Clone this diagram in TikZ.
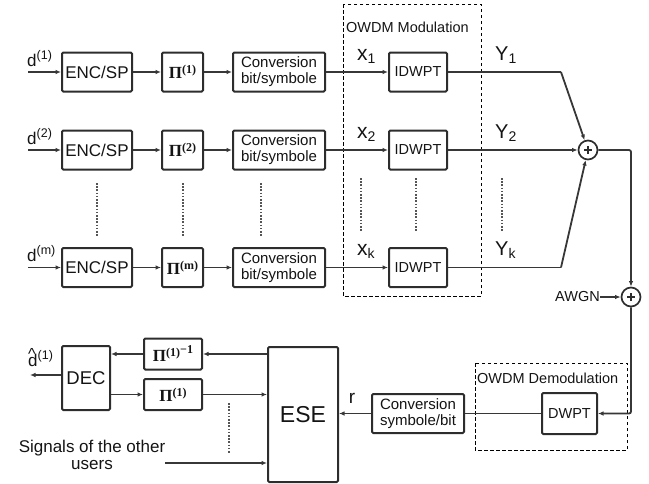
\documentclass[tikz,border=0pt]{standalone}
\usepackage{fontspec}
\setmainfont{Liberation Sans}
\newfontfamily\piserif{Liberation Serif}
\usetikzlibrary{arrows.meta}
\definecolor{linegray}{RGB}{55,55,55}
\definecolor{boxgray}{RGB}{45,45,45}
\definecolor{txt}{RGB}{20,20,20}
\newcommand\fs[1]{\fontsize{#1}{#1}\selectfont}
\newcommand\mysub[2]{#1\raisebox{-3pt}{\fs{14}#2}}
\newcommand\mysup[2]{#1\raisebox{7pt}{\fs{12.5}#2}}
\newcommand\pisym[1]{{\piserif\bfseries\fs{17}Π\raisebox{5pt}{\fs{12}#1}}}
\newcommand\pinv{{\piserif\bfseries\fs{17}Π\raisebox{5pt}{\fs{12}(1)\raisebox{3pt}{\fs{12}−1}}}}
\newcommand\dhat{\rlap{\raisebox{7pt}{\fs{16}\textasciicircum}}d}
\begin{document}
\begin{tikzpicture}[x=1pt,y=-1pt,
  blk/.style={draw=boxgray,line width=2pt,fill=white,inner sep=0pt,align=center,rounded corners=1.2pt,text=txt},
  conn/.style={draw=linegray,line width=1.8pt},
  arr/.style={conn,-{Latex[length=5.5pt,width=4.5pt]}},
  lbl/.style={inner sep=0pt,text=txt},
  dotsv/.style={draw=linegray!85,line width=2.4pt,dash pattern=on 1.6pt off 1.6pt},
  frame/.style={draw=black,line width=0.9pt,dash pattern=on 3.5pt off 2.5pt},
  adder/.style={circle,draw=boxgray,line width=1.7pt,fill=white,minimum size=19pt,inner sep=0pt}]
\useasboundingbox (0,0) rectangle (649,483);

% dashed frames
\draw[frame] (343,4) rectangle (481,296);
\node[lbl,anchor=west,font=\fs{14.5}] (modlbl) at (346,27) {OWDM Modulation};
\draw[frame] (475,363) rectangle (627,450);
\node[lbl,anchor=west,font=\fs{14.5}] (demodlbl) at (477,378) {OWDM Demodulation};

% rows
\foreach \r/\yy/\sup/\sub in {1/72/(1)/1, 2/150/(2)/2, m/267.5/(m)/k}{
  \coordinate (in\r) at (28,\yy);
  \node[blk,minimum width=70pt,minimum height=39pt,font=\fs{17}] (enc\r) at (97,\yy) {ENC/SP};
  \node[blk,minimum width=41pt,minimum height=39pt] (pi\r) at (182.5,\yy) {\pisym{\sup}};
  \node[blk,minimum width=92pt,minimum height=39pt,font=\fs{15}] (conv\r) at (279,\yy) {Conversion\\[1pt]bit/symbole};
  \node[blk,minimum width=58pt,minimum height=39pt,font=\fs{14.5}] (idw\r) at (418,\yy) {IDWPT};
  \node[lbl,font=\fs{17},anchor=base west] (dl\r) at (27,\yy-6) {\mysup{d}{\sup}};
  \node[lbl,font=\fs{21},anchor=base west] (xl\r) at (357,\yy-12) {\mysub{x}{\sub}};
  \node[lbl,font=\fs{20},anchor=base west] (yl\r) at (495,\yy-12) {\mysub{Y}{\sub}};
  \draw[arr] (in\r) -- (enc\r);
  \draw[arr] (enc\r) -- (pi\r);
  \draw[arr] (pi\r) -- (conv\r);
  \draw[arr] (conv\r) -- (idw\r);
}

% adders
\node[adder] (s1) at (588,150) {};
\node[adder] (s2) at (631,297) {};
\foreach \s in {s1,s2}{
  \draw[boxgray,line width=1.3pt] ([xshift=-4pt]\s.center) -- ([xshift=4pt]\s.center)
    ([yshift=-4pt]\s.center) -- ([yshift=4pt]\s.center);
}
\coordinate (b1) at (561,72);
\coordinate (bm) at (561,267.5);
\draw[conn] (idw1) -- (b1);
\draw[arr] (b1) -- (s1);
\draw[arr] (idw2) -- (s1);
\draw[conn] (idwm) -- (bm);
\draw[arr] (bm) -- (s1);
\coordinate (c1) at (631,150);
\draw[arr,rounded corners=2pt] (s1) -- (c1) -- (s2);
\node[lbl,font=\fs{14.5},anchor=east] (awgn) at (600,297) {AWGN};
\draw[arr] (awgn) -- (s2);

% vertical dots
\draw[dotsv] (97,183) -- (97,237);
\draw[dotsv] (183,183) -- (183,237);
\draw[dotsv] (261,183) -- (261,237);
\draw[dotsv] (361,178) -- (361,232);
\draw[dotsv] (416,178) -- (416,232);
\draw[dotsv] (502,178) -- (502,232);
\draw[dotsv] (229,403) -- (229,453);

% receiver
\node[blk,minimum width=55pt,minimum height=41pt,font=\fs{14.5}] (dwpt) at (569.5,413.5) {DWPT};
\node[blk,minimum width=92pt,minimum height=39pt,font=\fs{15}] (convb) at (418,413.5) {Conversion\\[1pt]symbole/bit};
\node[blk,minimum width=70pt,minimum height=135pt,font=\fs{23}] (ese) at (303,414.5) {ESE};
\node[blk,minimum width=58pt,minimum height=31pt] (pinv) at (173,354) {\pinv};
\node[blk,minimum width=58pt,minimum height=31pt] (pib) at (173,394.5) {\pisym{(1)}};
\node[blk,minimum width=48pt,minimum height=64pt,font=\fs{18.5}] (dec) at (86,378) {DEC};

\coordinate (c2) at (631,413.5);
\draw[arr,rounded corners=2pt] (s2) -- (c2) -- (dwpt);
\draw[conn] (dwpt) -- (convb);
\draw[arr] (convb) -- (ese.east |- convb);
\node[lbl,font=\fs{19},anchor=base] (rl) at (352,403) {r};

\draw[arr] (ese.west |- pinv) -- (pinv);
\draw[arr] (pinv) -- (dec.east |- pinv);
\draw[arr] (dec.east |- pib) -- (pib);
\draw[arr] (pib) -- (ese.west |- pib);
\coordinate (dout) at (30,375);
\draw[arr] (dec.west |- dout) -- (dout);
\node[lbl,font=\fs{17},anchor=base west] (dhat) at (28,366) {\mysup{\dhat}{(1)}};

\node[lbl,font=\fs{17},align=center] (sig) at (92,455) {Signals of the other\\users};
\coordinate (sigin) at (165,463);
\draw[arr] (sigin) -- (ese.west |- sigin);
\end{tikzpicture}
\end{document}
